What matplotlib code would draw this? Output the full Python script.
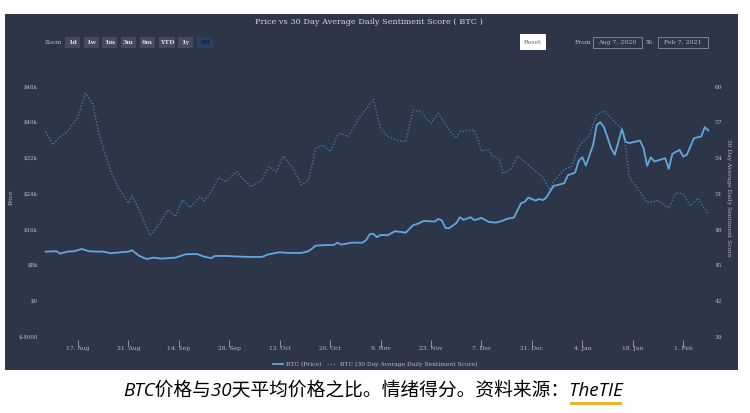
import datetime as dt
import matplotlib
matplotlib.use('Agg')
import matplotlib.pyplot as plt
import matplotlib.dates as mdates
from matplotlib.patches import Rectangle

start = dt.date(2020, 8, 7)

price_days = [1, 4, 5, 7, 9, 11, 13, 15, 17, 19, 24, 25, 27, 29, 31, 33, 37, 40, 43, 45, 47, 48, 51, 55, 58,
              61, 63, 66, 68, 72, 74, 76, 78, 81, 82, 83, 86, 89, 90, 91, 92, 93, 94, 96, 98, 101, 103, 104,
              106, 109, 110, 111, 112, 113, 115, 116, 117, 119, 120, 122, 124, 126, 128, 129, 131, 133, 134,
              135, 137, 138, 139, 140, 142, 143, 145, 146, 148, 149, 150, 151, 153, 154, 155, 156, 158, 159,
              161, 162, 163, 166, 167, 168, 169, 170, 173, 174, 175, 177, 178, 179, 181, 183, 184, 185]
price_k = [11.05, 11.14, 10.6, 11.05, 11.14, 11.65, 11.14, 11.05, 11.05, 10.69, 11.05, 11.36, 10.08, 9.41, 9.7,
           9.48, 9.7, 10.47, 10.53, 9.93, 9.57, 10.08, 10.08, 9.93, 9.86, 9.86, 10.47, 10.91, 10.76, 10.76,
           11.14, 12.39, 12.48, 12.55, 13.06, 12.62, 13.06, 13.06, 13.67, 14.95, 15.01, 14.28, 14.79, 14.72,
           15.62, 15.31, 16.96, 17.19, 17.93, 17.77, 18.38, 18.0, 16.36, 16.29, 17.41, 18.76, 18.15, 18.76,
           18.09, 18.6, 17.7, 17.55, 18.0, 18.38, 18.67, 21.89, 22.19, 23.15, 22.48, 22.86, 22.57, 23.15,
           25.77, 25.93, 26.38, 28.17, 28.75, 31.37, 32.2, 30.32, 34.96, 39.44, 40.05, 38.93, 34.22, 32.72,
           38.48, 35.7, 35.34, 35.92, 34.22, 30.25, 32.2, 31.22, 31.98, 29.58, 32.94, 33.84, 32.34, 32.72,
           36.46, 36.82, 38.93, 38.16]

score_days = [1, 3, 5, 7, 10, 12, 14, 16, 19, 21, 24, 25, 27, 30, 32, 35, 37, 39, 41, 44, 45, 47, 49, 51, 54,
              58, 61, 63, 65, 67, 70, 72, 74, 76, 78, 80, 82, 83, 85, 88, 89, 92, 94, 96, 99, 101, 103, 105,
              108, 110, 113, 115, 116, 120, 122, 124, 125, 127, 128, 130, 132, 134, 139, 141, 142, 145, 147,
              149, 152, 154, 156, 158, 161, 162, 163, 166, 168, 171, 174, 176, 178, 180, 182, 185]
score = [56.23, 55.11, 55.81, 56.23, 57.49, 59.45, 58.61, 55.81, 53.01, 51.6, 50.21, 50.82, 49.65, 47.49, 48.24,
         49.65, 49.08, 50.49, 49.87, 50.76, 50.43, 51.18, 52.39, 52.02, 52.87, 51.6, 52.17, 53.29, 52.87, 54.18,
         53.01, 51.75, 52.17, 54.83, 55.11, 54.55, 55.87, 56.09, 55.81, 57.35, 57.77, 58.95, 56.51, 55.81, 55.47,
         55.39, 58.05, 57.91, 56.93, 57.77, 56.37, 55.67, 56.23, 56.37, 54.6, 54.75, 54.18, 53.91, 52.73, 53.01,
         54.18, 53.71, 52.39, 51.33, 52.02, 53.07, 53.29, 54.97, 55.95, 57.63, 57.97, 57.35, 56.43, 54.97, 52.45,
         51.18, 50.26, 50.43, 49.79, 51.1, 50.99, 49.98, 50.63, 49.31]

price_ticks = [-8, 0, 8, 16, 24, 32, 40, 48]
price_labels = ['$-8000', '$0', '$8k', '$16k', '$24k', '$32k', '$40k', '$48k']
score_ticks = [39, 42, 45, 48, 51, 54, 57, 60]
date_ticks = [dt.date(2020, 8, 17), dt.date(2020, 8, 31), dt.date(2020, 9, 14), dt.date(2020, 9, 28),
              dt.date(2020, 10, 12), dt.date(2020, 10, 26), dt.date(2020, 11, 9), dt.date(2020, 11, 23),
              dt.date(2020, 12, 7), dt.date(2020, 12, 21), dt.date(2021, 1, 4), dt.date(2021, 1, 18),
              dt.date(2021, 2, 1)]
date_labels = ['17. Aug', '31. Aug', '14. Sep', '28. Sep', '12. Oct', '26. Oct', '9. Nov', '23. Nov',
               '7. Dec', '21. Dec', '4. Jan', '18. Jan', '1. Feb']
zoom_buttons = ['1d', '1w', '1m', '3m', '6m', 'YTD', '1y', 'All']

W, H = 750, 413
PANEL = '#2d3548'
LIGHT = '#b9bcc4'
SOLID = '#62a8dc'
DOTTED = '#4079ad'

plt.rcParams['font.family'] = ['DejaVu Serif']
fig = plt.figure(figsize=(W / 100, H / 100), dpi=100, facecolor='white')


# rectangles and labels of the page are placed in pixels, y going down
def box(x0, y0, x1, y1, **kw):
    fig.add_artist(Rectangle((x0 / W, 1 - y1 / H), (x1 - x0) / W, (y1 - y0) / H,
                             transform=fig.transFigure, **kw))


def label(x, y, s, size=4.6, color=LIGHT, ha='center', **kw):
    fig.text(x / W, 1 - y / H, s, fontsize=size, color=color, ha=ha, va='center', **kw)


box(5, 14, 738, 370, facecolor=PANEL, edgecolor='none', zorder=-5)

ax = fig.add_axes([42 / W, 1 - 340 / H, 670 / W, 265 / H])
ax.patch.set_visible(False)
for s in ax.spines.values():
    s.set_visible(False)
ax2 = ax.twinx()
ax2.patch.set_visible(False)
for s in ax2.spines.values():
    s.set_visible(False)

price_x = [start + dt.timedelta(days=d) for d in price_days]
score_x = [start + dt.timedelta(days=d) for d in score_days]
line1, = ax.plot(price_x, price_k, color=SOLID, lw=1.3, label='BTC (Price)')
line2, = ax2.plot(score_x, score, color=DOTTED, lw=1.0, ls=(0, (1, 1.3)),
                  label='BTC (30 Day Average Daily Sentiment Score)')
# price line goes over the dotted one
ax.set_zorder(ax2.get_zorder() + 1)

ax.set_xlim(start + dt.timedelta(days=0), start + dt.timedelta(days=186.6))
ax.set_ylim(-8.74, 50.6)
ax2.set_ylim(38.72, 60.99)

ax.set_xticks([mdates.date2num(d) for d in date_ticks])
ax.set_xticklabels(date_labels)
ax.tick_params(axis='x', length=5, width=0.5, color='#aeb3bd', pad=-1, labelsize=4.3, labelcolor=LIGHT)
ax.set_yticks(price_ticks)
ax.set_yticklabels(price_labels)
ax.tick_params(axis='y', length=0, pad=3, labelsize=4.0, labelcolor=LIGHT)
ax2.set_yticks(score_ticks)
ax2.tick_params(axis='y', length=0, pad=2, labelsize=4.3, labelcolor=LIGHT)

label(11, 197, 'Price', size=4.3, rotation=90)
label(728, 198, '30 Day Average Daily Sentiment Score', size=4.3, rotation=270)

label(369, 22, 'Price vs 30 Day Average Daily Sentiment Score ( BTC )', size=5.9, color='#d4d6dc')

# range selector row
label(54, 42.5, 'Zoom', size=4.5)
btn_x = [(65, 80), (84, 99), (102, 117), (121, 136), (140, 155), (159, 175), (178, 193), (197, 213)]
for (x0, x1), name in zip(btn_x, zoom_buttons):
    active = name == 'All'
    box(x0, 37, x1, 48, facecolor='#2c3f5e' if active else '#434b5c', edgecolor='none', zorder=-4)
    label((x0 + x1) / 2, 42.5, name, size=4.5, color='#0d1f44' if active else '#d5d7dc', fontweight='bold')

box(520, 34, 546, 50, facecolor='white', edgecolor='none', zorder=-4)
label(533, 42.5, 'Reset', size=4.5, color='#666666')
label(583, 42.5, 'From', size=4.5)
box(593, 37, 642, 48, facecolor='none', edgecolor='#9da2ad', lw=0.5, zorder=-4)
label(617.5, 42.5, 'Aug 7, 2020', size=4.5)
label(650, 42.5, 'To', size=4.5)
box(658, 37, 708, 48, facecolor='none', edgecolor='#9da2ad', lw=0.5, zorder=-4)
label(683, 42.5, 'Feb 7, 2021', size=4.5)

fig.legend(handles=[line1, line2], loc='center', bbox_to_anchor=(375 / W, 1 - 364 / H), ncol=2, frameon=False,
           fontsize=4.3, labelcolor=LIGHT, handlelength=1.6, columnspacing=1.0, handletextpad=0.5)

fig.text(373 / W, 1 - 390.5 / H, 'BTC价格与30天平均价格之比。情绪得分。资料来源：TheTIE', fontsize=13.5, color='black',
         family=['Open Sans', 'Noto Sans CJK SC'], style='italic', ha='center', va='center')
box(570, 401.5, 622, 404.5, facecolor='#f0b429', edgecolor='none')

fig.savefig('out.png', dpi=100, facecolor='white')
